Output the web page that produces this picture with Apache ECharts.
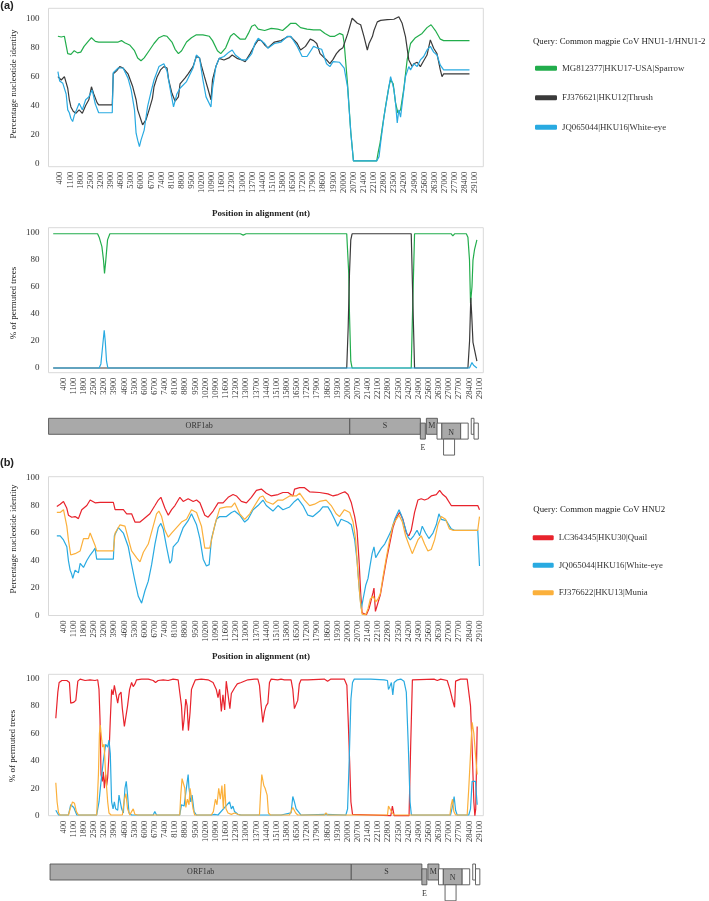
<!DOCTYPE html>
<html><head><meta charset="utf-8">
<script src="https://cdn.jsdelivr.net/npm/echarts@6/dist/echarts.min.js"></script>
<style>html,body{margin:0;padding:0;background:#fff}#c{width:709px;height:901px}</style>
</head><body><div id="c"></div>
<script>
// ---------- tick labels ----------
const xTicks = [];
for (let v = 400; v <= 29100; v += 700) xTicks.push(v);
const yTicks = [0, 20, 40, 60, 80, 100];

// ---------- series names ----------
const nameSparrow = 'MG812377|HKU17-USA|Sparrow';
const nameThrush = 'FJ376621|HKU12|Thrush';
const nameWhiteEye = 'JQ065044|HKU16|White-eye';
const nameQuail = 'LC364345|HKU30|Quail';
const nameMunia = 'FJ376622|HKU13|Munia';

// ---------- (a) identity ----------
const aIdentSparrow = [[240,88],[470,87.5],[690,88],[920,76],[1140,75.5],[1370,78],[1590,76.5],[1820,77],[2050,81],[2380,85],[2560,87],[2830,84.5],[3060,84],[4410,84],[4640,85],[4860,83.5],[5200,82],[5540,78],[5760,73],[5990,71],[6210,73],[6550,78],[6890,83],[7230,87],[7570,88.5],[7790,88],[8130,84],[8350,79],[8580,76],[8800,78],[9140,84],[9480,87],[9820,89],[10270,89],[10720,88],[10940,85],[11280,78],[11510,76],[11850,80],[12180,88],[12410,90],[12630,88],[12860,86],[13200,86],[13420,90],[13650,95],[13870,96],[14100,93],[14550,92],[15000,93.5],[15450,93],[15790,92],[16130,95],[16350,97],[16690,97],[17030,94],[17480,93],[17930,92.5],[18380,92.5],[18720,90],[19060,88],[19390,88],[19730,90],[19960,89],[20050,83],[20280,55],[20510,21],[20690,1.6],[22300,1.6],[22410,8],[22530,14],[22690,25],[22920,40],[23140,53],[23260,58],[23440,55],[23600,42],[23760,35],[23950,37],[24180,52],[24410,72],[24640,83],[24980,87],[25440,90],[25780,94],[26060,96],[26360,92],[26700,86],[26930,85],[28720,85]];
const aIdentThrush = [[240,60],[470,57.7],[690,60],[920,52],[1030,44],[1140,39],[1300,36],[1480,34.6],[1710,37],[1930,34.6],[2160,40],[2380,44],[2560,53],[2720,48],[2950,42],[3060,40.4],[4000,40.4],[4070,62],[4300,64],[4520,67],[4750,66],[5090,62],[5420,53],[5650,44],[5760,37],[5990,30],[6100,26.6],[6330,30],[6550,37],[6780,45],[6890,53],[7110,60],[7340,64.7],[7570,67],[7790,66],[7900,58],[8130,48.5],[8350,43],[8580,46],[8690,55],[9030,59],[9250,62],[9590,67],[9820,74],[10040,73],[10160,68],[10380,60],[10610,52],[10830,44],[10940,58],[11170,67],[11400,72.7],[11730,71.6],[12070,73],[12300,75],[12630,72.7],[12970,71.6],[13200,70.4],[13540,76],[13870,82],[14100,85.5],[14320,85],[14550,82],[14770,80],[15220,84],[15680,85],[16130,87.7],[16350,87.7],[16800,83],[17030,78.5],[17370,81],[17700,86],[17930,85],[18150,83],[18380,76],[18830,71.6],[19060,69],[19280,72],[19510,76],[19730,78.5],[19960,80],[20300,90],[20600,100.5],[20960,97],[21190,96],[21420,87.8],[21650,78.5],[21770,83],[22000,87.8],[22110,92],[22340,98],[22570,99],[23030,99.5],[23490,99.8],[23830,101.5],[24060,97],[24290,87.8],[24520,71.6],[24750,67],[24870,69],[25100,70],[25320,67],[25550,71],[25780,75],[26010,85.5],[26240,79.7],[26470,76],[26700,64.7],[26820,60],[26930,62],[28720,62]];
const aIdentWhiteEye = [[240,63.5],[360,57],[580,55.4],[810,48],[920,37],[1030,35],[1140,31],[1260,28.9],[1370,33],[1480,32],[1710,41.6],[1930,37],[2160,44],[2380,46],[2610,50.8],[2830,41],[3060,35],[4000,35],[4070,62.8],[4410,66],[4750,66],[5090,59],[5310,50.8],[5540,37],[5650,20.8],[5760,16],[5880,11.5],[5990,16],[6210,23],[6440,39],[6660,48.5],[6890,57.7],[7230,67],[7570,69],[7790,64],[8020,50.8],[8240,39],[8470,48],[8690,52],[9140,56.6],[9590,66],[9820,75],[10040,73],[10270,58],[10490,46],[10830,39],[10940,52],[11170,67],[11400,72.7],[11730,74],[12070,77],[12300,78.5],[12520,75],[12970,71.6],[13310,71.6],[13650,76],[13870,83],[14100,86.6],[14550,83],[14770,79.7],[15220,83],[15680,84],[16130,88],[16350,88],[16800,81],[17140,74],[17480,74],[17930,81],[18150,80],[18490,79],[18830,69],[19060,67],[19280,70.4],[19730,70],[20050,66],[20280,53],[20510,21],[20690,1.6],[22300,1.6],[22460,4.6],[22570,14],[22800,32],[23030,46],[23260,60],[23370,56],[23490,51],[23600,42],[23720,28],[23830,37],[23950,32],[24060,31],[24290,60],[24520,67],[24640,64.7],[24870,69],[25100,67],[25320,71.6],[25550,74],[25780,78.5],[26010,81],[26240,77],[26470,75],[26700,68],[26930,64.7],[28720,64.7]];

// ---------- (a) permuted trees ----------
const aTreesSparrow = [[-310,99.5],[2750,99.5],[2860,97],[3050,90],[3160,80],[3230,70],[3320,80],[3440,95],[3600,99.5],[12600,99.5],[12800,98.5],[13000,99.5],[19940,99.5],[20080,70],[20130,40],[20220,5],[20310,0],[24390,0],[24500,50],[24620,99.5],[27150,99.5],[27260,98],[27380,99.5],[28190,99.5],[28300,97],[28410,80],[28480,48],[28580,60],[28650,80],[28760,88],[28920,95]];
const aTreesThrush = [[-310,0],[19940,0],[20040,30],[20130,70],[20220,95],[20310,99.5],[24390,99.5],[24500,50],[24620,0],[28300,0],[28415,20],[28500,52],[28560,40],[28650,19],[28920,5]];
const aTreesWhiteEye = [[-310,0],[2860,0],[2980,3],[3090,15],[3210,28],[3280,20],[3370,5],[3460,0],[28410,0],[28580,4],[28690,2],[28920,0]];

// ---------- (b) identity ----------
const bIdentQuail = [[-60,79.4],[170,81],[400,83],[630,78],[740,73],[970,71.5],[1200,72],[1430,70.5],[1660,77],[2010,80],[2240,84],[2580,82],[2920,82.3],[3840,82.3],[3960,77],[4530,77],[4760,74],[5100,74],[5330,68],[5680,68],[5910,70],[6360,74],[6710,80],[6940,84],[7120,86],[7400,78],[7630,73],[7860,77],[8090,80],[8430,86],[8660,83],[9000,85],[9350,83],[9580,84],[9810,82],[10150,73],[10380,71.5],[10720,76],[11070,82],[11410,82],[11760,86],[12100,88],[12330,87],[12670,83],[13020,82],[13360,86],[13710,91],[14050,92],[14390,89],[14740,87],[15200,88],[15540,89.5],[15890,89.5],[16230,87],[16340,92],[16690,93],[17030,93],[17380,90],[18060,89.5],[18640,88.5],[19000,87],[19350,88],[19670,89.5],[19810,90],[20030,88],[20260,82],[20490,72],[20650,62],[20790,40],[20910,15],[21000,2],[21300,0.5],[21480,5],[21600,10],[21760,17],[21820,20],[21920,3],[22030,4],[22170,12],[22260,15],[22440,26],[22670,40],[22900,52],[23130,64],[23360,71],[23590,75],[23820,70],[24050,60],[24230,58],[24390,62],[24620,75],[24850,84],[25080,85],[25310,84],[25540,85],[25770,87],[26120,88],[26350,91],[26570,88],[26800,86],[27150,80],[27490,80],[28980,80],[29100,77]];
const bIdentWhiteEye = [[-60,58],[170,58],[400,55],[630,50],[740,40],[860,33],[970,30],[1040,27],[1200,33],[1430,31],[1550,38],[1780,35],[2010,40],[2240,44],[2460,47],[2580,49],[2690,41],[3840,41],[3910,58],[4190,64],[4530,60],[4870,50],[5100,37],[5330,25],[5560,14],[5790,9],[6020,18],[6250,25],[6480,37],[6710,52],[6940,64],[7120,67],[7280,63],[7510,50],[7740,38],[7860,40],[7970,50],[8310,54],[8660,64],[9000,69],[9230,74],[9580,66],[9810,56],[10040,41],[10260,36],[10450,37],[10610,56],[10950,70],[11180,72],[11640,72],[11990,75],[12210,76],[12560,73],[12900,68],[13130,70],[13480,77],[13820,80],[14160,84],[14390,80],[14850,76],[15200,80],[15540,77],[16000,79],[16340,83],[16570,85],[16920,80],[17260,73],[17610,72],[18060,76],[18290,79],[18640,79],[18870,75],[19100,70],[19320,65],[19550,70],[20010,68],[20260,66],[20490,55],[20650,40],[20840,15],[20950,5],[21070,12],[21250,22],[21410,27],[21530,35],[21690,45],[21820,50],[21940,42],[22100,45],[22330,49],[22560,52],[22790,57],[23020,62],[23250,70],[23550,77],[23710,73],[23940,65],[24170,57],[24330,55],[24560,58],[24790,62],[24970,58],[25150,65],[25380,60],[25610,56],[25890,60],[26120,66],[26300,74],[26460,70],[26800,69],[27150,63],[27380,62],[28980,62],[29100,36]];
const bIdentMunia = [[-60,75],[170,75],[400,77],[630,65],[740,55],[900,44],[1200,45],[1550,47],[1780,56],[2120,56],[2240,60],[2580,51],[2690,47],[3840,47],[3960,60],[4300,66],[4640,65],[4870,56],[5100,47],[5450,42],[5680,39],[5910,46],[6250,52],[6590,65],[6820,74],[6980,76],[7170,72],[7400,62],[7630,57],[7860,60],[8200,64],[8540,68],[8890,70],[9230,77],[9580,75],[9920,65],[10150,49],[10490,49],[10840,66],[11180,78],[11640,79],[11990,79],[12210,82],[12560,74],[12900,70],[13250,74],[13590,80],[13940,86],[14160,87],[14390,83],[14850,81],[15200,84],[15540,84],[16000,87],[16460,87],[16690,89],[17030,84],[17380,80],[17720,81],[18060,83],[18520,84],[18870,80],[19210,74],[19440,72],[19780,77],[20150,75],[20380,68],[20560,55],[20720,30],[20880,10],[21000,1],[21250,0.5],[21410,5],[21570,12],[21760,14],[21940,10],[22100,12],[22260,16],[22440,28],[22670,42],[22900,55],[23130,66],[23360,70],[23550,73],[23780,68],[24000,58],[24280,50],[24460,45],[24620,49],[24850,55],[25080,58],[25310,52],[25540,47],[25770,48],[26000,55],[26230,66],[26460,72],[26760,70],[27030,63],[27260,62],[28980,62],[29100,72]];

// ---------- (b) permuted trees ----------
const bTreesQuail = [[-130,71],[10,90],[100,97],[290,98.5],[630,98.5],[810,97],[900,82],[1090,82.5],[1250,84],[1390,98],[1550,99.5],[1890,98.5],[2230,99],[2580,98.5],[2760,99],[2850,92],[2920,70],[2990,30],[3080,25],[3150,32],[3220,20],[3310,30],[3380,22],[3450,28],[3540,45],[3630,70],[3720,92],[3820,88],[3910,95],[4000,95],[4140,82],[4230,88],[4370,90],[4460,78],[4600,65],[4710,64],[4820,80],[4960,92],[5100,97],[5210,94],[5330,96],[5440,99],[5790,99.5],[6250,99.5],[6590,98.5],[6750,97],[6930,98.5],[7280,99],[7620,98.5],[7960,99.5],[8310,99],[8420,98],[8540,80],[8630,62],[8720,70],[8840,85],[8930,80],[9020,62],[9130,75],[9230,92],[9340,95],[9500,99],[9910,99.5],[10370,99],[10720,97],[10940,92],[11060,86],[11170,92],[11290,76],[11400,88],[11520,77],[11630,98],[11750,99],[11880,78],[11980,89],[12200,93],[12390,96],[12660,97],[13120,99],[13580,99.5],[13810,99.5],[13920,95],[14040,80],[14150,68],[14270,76],[14380,80],[14500,82],[14610,97],[14730,99.5],[15180,99],[15410,99.5],[15530,98.5],[15640,99],[16100,99],[16220,92],[16330,78],[16450,77],[16560,84],[16670,96],[16790,99],[17250,99],[18390,99.5],[18620,98],[18850,99.5],[19770,99.5],[19950,95],[20040,70],[20140,40],[20230,10],[20340,1],[20460,0],[22980,0],[23090,7],[23210,0],[24240,0],[24350,50],[24470,99],[24580,99.5],[25960,99.5],[26190,98.5],[26420,99.5],[26870,98.5],[27060,92],[27220,85],[27380,79],[27450,98],[27790,99.5],[28250,99.5],[28480,80],[28590,50],[28710,10],[28780,0],[28840,5],[28940,65]];
const bTreesWhiteEye = [[-130,4],[60,0.5],[740,0.5],[900,8],[1020,9],[1110,6],[1200,7],[1320,0.5],[2690,0.5],[2850,10],[2990,25],[3150,40],[3310,52],[3450,50],[3540,55],[3630,45],[3720,10],[3820,5],[3910,10],[4000,5],[4140,4],[4230,15],[4320,14],[4410,5],[4530,2],[4640,20],[4730,25],[4820,15],[4920,2],[5100,0.5],[6590,0.5],[6700,3],[6820,0.5],[8420,0.5],[8540,8],[8720,7],[8840,8],[9000,30],[9060,20],[9180,10],[9270,15],[9410,3],[9570,0.5],[10600,0.5],[10830,1],[11060,0.5],[11860,10],[11980,5],[12090,7],[12200,3],[12320,4],[12430,1],[12660,0.5],[15410,0.5],[16100,2],[16220,14],[16330,10],[16450,5],[16560,6],[16670,2],[16790,0.5],[18510,1],[19880,0.5],[20000,5],[20110,40],[20230,85],[20340,97],[20460,99.5],[21600,99.5],[22520,99],[22750,98.5],[22820,92],[22910,94],[23020,97],[23120,88],[23210,97],[23440,99],[23670,99.5],[23890,98],[24050,90],[24190,50],[24310,10],[24400,0.5],[27100,0.5],[27260,8],[27350,14],[27450,4],[27560,0.5],[28360,0.5],[28480,5],[28590,25],[28710,26],[28820,25],[28940,8]];
const bTreesMunia = [[-130,24],[-40,10],[60,2],[170,0.5],[740,0.5],[860,5],[1020,10],[1160,9],[1290,3],[1430,0.5],[2690,0.5],[2810,30],[2880,60],[2940,66],[3040,55],[3100,50],[3200,52],[3310,30],[3450,10],[3540,2],[3680,0.5],[4460,0.5],[4600,12],[4710,16],[4820,5],[4980,0.5],[5100,3],[5210,5],[5330,1],[5510,0.5],[8420,0.5],[8490,15],[8580,27],[8680,28],[8770,20],[8840,6],[8950,12],[9060,8],[9130,20],[9230,19],[9340,5],[9450,0.5],[10600,0.5],[10740,3],[10880,12],[10990,8],[11110,20],[11220,12],[11330,22],[11430,5],[11520,23],[11610,5],[11750,2],[11980,1],[12200,2],[12550,0.5],[13920,0.5],[13990,15],[14080,30],[14150,30],[14220,22],[14310,20],[14450,15],[14540,2],[14680,0.5],[15990,0.5],[16100,3],[16220,6],[16330,7],[16420,2],[16560,0.5],[18390,0.5],[18510,2],[18620,0.5],[22750,0.5],[22820,7],[22910,8],[23020,3],[23120,4],[23210,0.5],[27060,0.5],[27150,8],[27240,12],[27330,3],[27450,0.5],[28250,0.5],[28360,20],[28480,45],[28590,68],[28710,60],[28820,45],[28940,30]];

// ---------- genome schematic (axis units) ----------
const geneLabels = ['ORF1ab', 'S', 'E', 'M', '', 'N', '', '', '', ''];
const geneStart  = [-630, 20150, 25020, 25435, 26170, 26500, 27800, 26620, 28530, 28720];
const geneEnd    = [20150, 25020, 25365, 26195, 26500, 27800, 28320, 27380, 28720, 29020];
const geneTrack  = [0, 0, 1, 0, 1, 1, 1, 2, 0, 1];
const geneShaded = [true, true, true, true, false, true, false, false, false, false];

// ---------- styling ----------
const SERIF = '"Liberation Serif", "Times New Roman", serif';
const SANS = '"Liberation Sans", Arial, sans-serif';
const C = { green: '#22ad4c', dark: '#3a3a3a', cyan: '#29aae1', red: '#e8232c', orange: '#fbb03b' };
const trackTop = [0, 4.8, 20.8];
const trackH = 16;

const gridL = 48.5, gridW = 434.8;
const grids = [
  { left: gridL, top: 8.3, width: gridW, height: 158.4 },   // a identity
  { left: gridL, top: 227.7, width: gridW, height: 145 },   // a trees
  { left: gridL, top: 418.3, width: gridW, height: 37 },    // a genome
  { left: gridL, top: 476.7, width: gridW, height: 138.8 }, // b identity
  { left: gridL, top: 674.3, width: gridW, height: 141.4 }, // b trees
  { left: gridL + 1.5, top: 864, width: gridW, height: 37 } // b genome
].map((g, i) => Object.assign(g, (i === 2 || i === 5) ? { show: false } :
  { show: true, borderColor: '#d9d9d9', borderWidth: 1, backgroundColor: '#fff' }));

function xAx(gi, min, max, hidden) {
  return {
    type: 'value', gridIndex: gi, min: min, max: max, show: !hidden,
    axisLine: { show: false }, axisTick: { show: false }, splitLine: { show: false },
    axisLabel: { customValues: xTicks, rotate: 90, fontFamily: SERIF, fontSize: 8.5, color: '#333', margin: 5,
      formatter: function (v) { return String(Math.round(v)); } }
  };
}
function yAx(gi, min, max, hidden, inverse) {
  return {
    type: 'value', gridIndex: gi, min: min, max: max, show: !hidden, inverse: !!inverse,
    axisLine: { show: false }, axisTick: { show: false }, splitLine: { show: false },
    axisLabel: { customValues: yTicks, fontFamily: SERIF, fontSize: 9, color: '#333', margin: 9,
      formatter: function (v) { return String(Math.round(v)); } }
  };
}

function line(name, data, color, gi) {
  return {
    type: 'line', name: name, data: data, xAxisIndex: gi, yAxisIndex: gi,
    symbol: 'none', showSymbol: false, silent: true, clip: false,
    lineStyle: { color: color, width: 1.2 }, itemStyle: { color: color }
  };
}

function geneSeries(gi) {
  const data = geneStart.map((s, i) => [s, geneEnd[i], geneTrack[i]]);
  return {
    type: 'custom', xAxisIndex: gi, yAxisIndex: gi, silent: true, clip: false,
    data: data,
    renderItem: function (params, api) {
      const i = params.dataIndex;
      const tr = api.value(2);
      const p0 = api.coord([api.value(0), trackTop[tr]]);
      const p1 = api.coord([api.value(1), trackTop[tr] + trackH]);
      const w = p1[0] - p0[0], h = p1[1] - p0[1];
      const children = [{
        type: 'rect',
        shape: { x: p0[0], y: p0[1], width: w, height: h },
        style: { fill: geneShaded[i] ? '#a9a9a9' : '#ffffff', stroke: '#555555', lineWidth: 0.9 }
      }];
      const lab = geneLabels[i];
      if (lab) {
        const below = w < 10;
        children.push({
          type: 'text',
          x: p0[0] + w / 2,
          y: below ? p1[1] + 9 : p0[1] + h / 2 + (lab === 'N' ? 1.5 : 0),
          style: { text: lab, font: '8px ' + SERIF, fill: '#333', align: 'center', verticalAlign: 'middle' }
        });
      }
      return { type: 'group', children: children };
    }
  };
}

function txt(x, y, text, font, opts) {
  return Object.assign({
    type: 'text', x: x, y: y, silent: true,
    style: { text: text, font: font, fill: '#222', align: 'center', verticalAlign: 'middle' }
  }, opts || {});
}

const axMin = -634, axMax = 29362;
const legendText = { fontFamily: SERIF, fontSize: 8.8, color: '#333', lineHeight: 12 };
const option = {
  animation: false,
  backgroundColor: '#fff',
  grid: grids,
  xAxis: [
    xAx(0, -411, 29675), xAx(1, axMin, axMax), xAx(2, axMin, axMax, true),
    xAx(3, axMin, axMax), xAx(4, axMin, axMax), xAx(5, axMin, axMax, true)
  ],
  yAxis: [
    yAx(0, -2.4, 107.4), yAx(1, -3.5, 104), yAx(2, 0, 37, true, true),
    yAx(3, 0, 101), yAx(4, 0, 103), yAx(5, 0, 37, true, true)
  ],
  legend: [
    {
      data: [nameSparrow, nameThrush, nameWhiteEye], orient: 'vertical', left: 535, top: 62.3,
      padding: 0, icon: 'roundRect', itemWidth: 22, itemHeight: 5, itemGap: 17.5, selectedMode: false,
      textStyle: legendText
    },
    {
      data: [nameQuail, nameWhiteEye, nameMunia], orient: 'vertical', left: 532.7, top: 531.7,
      padding: 0, icon: 'roundRect', itemWidth: 21, itemHeight: 5, itemGap: 15.5, selectedMode: false,
      textStyle: legendText
    }
  ],
  graphic: [
    txt(7, 6, '(a)', 'bold 11px ' + SANS),
    txt(7, 463, '(b)', 'bold 11px ' + SANS),
    txt(14, 84, 'Percentage nucleotide identity', '9px ' + SERIF, { rotation: Math.PI / 2 }),
    txt(14, 303, '% of permuted trees', '9px ' + SERIF, { rotation: Math.PI / 2 }),
    txt(14, 539, 'Percentage nucleotide identity', '9px ' + SERIF, { rotation: Math.PI / 2 }),
    txt(13, 746, '% of permuted trees', '9px ' + SERIF, { rotation: Math.PI / 2 }),
    txt(261, 213.5, 'Position in alignment (nt)', 'bold 9px ' + SERIF),
    txt(261, 657, 'Position in alignment (nt)', 'bold 9px ' + SERIF),
    { type: 'text', x: 533, y: 41.7, silent: true,
      style: { text: 'Query: Common magpie CoV HNU1-1/HNU1-2', font: '8.8px ' + SERIF, fill: '#222', align: 'left', verticalAlign: 'middle' } },
    { type: 'text', x: 533.3, y: 510, silent: true,
      style: { text: 'Query: Common magpie CoV HNU2', font: '8.8px ' + SERIF, fill: '#222', align: 'left', verticalAlign: 'middle' } }
  ],
  series: [
    line(nameSparrow, aIdentSparrow, C.green, 0),
    line(nameThrush, aIdentThrush, C.dark, 0),
    line(nameWhiteEye, aIdentWhiteEye, C.cyan, 0),
    line(nameSparrow, aTreesSparrow, C.green, 1),
    line(nameThrush, aTreesThrush, C.dark, 1),
    line(nameWhiteEye, aTreesWhiteEye, C.cyan, 1),
    geneSeries(2),
    line(nameQuail, bIdentQuail, C.red, 3),
    line(nameWhiteEye, bIdentWhiteEye, C.cyan, 3),
    line(nameMunia, bIdentMunia, C.orange, 3),
    line(nameQuail, bTreesQuail, C.red, 4),
    line(nameWhiteEye, bTreesWhiteEye, C.cyan, 4),
    line(nameMunia, bTreesMunia, C.orange, 4),
    geneSeries(5)
  ]
};
const chart = echarts.init(document.getElementById('c'), null, { renderer: 'canvas' });
chart.setOption(option);
</script>
</body></html>
